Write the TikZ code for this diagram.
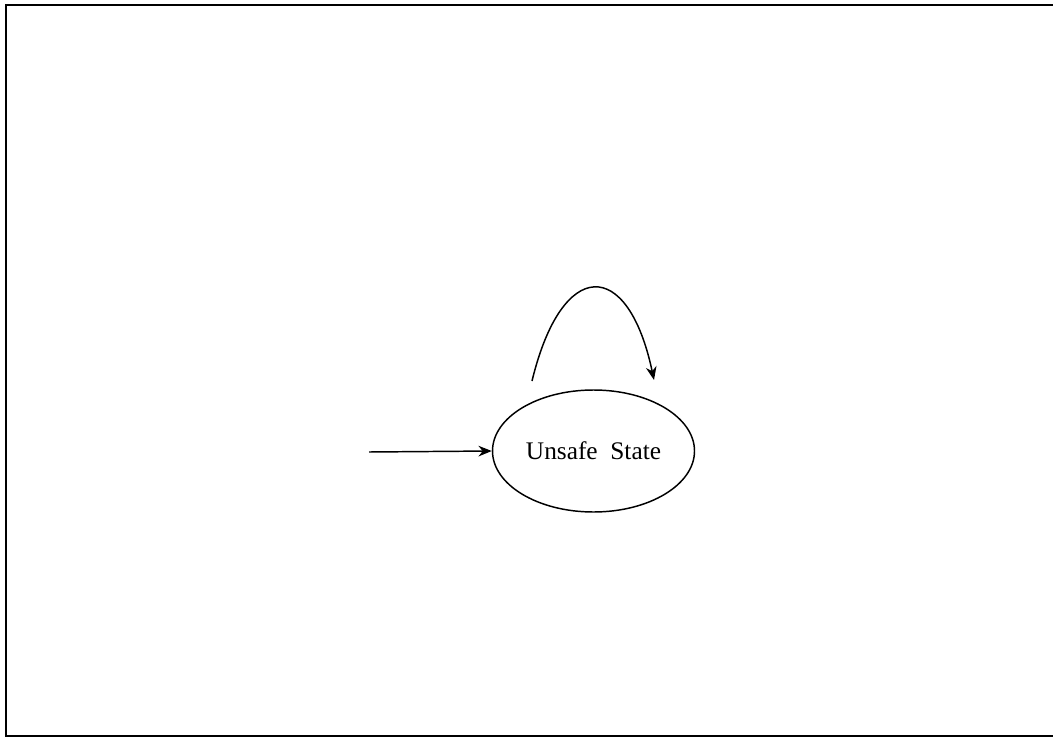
\documentclass[tikz,border=0pt]{standalone}
\usepackage{fontspec}
\setmainfont{Liberation Serif}
\usetikzlibrary{shapes.geometric,arrows.meta}
\begin{document}
\begin{tikzpicture}[
  x=0.75pt, y=-0.75pt,
  state/.style={ellipse, draw, line width=1.1pt, minimum width=151.5pt, minimum height=91.5pt, inner sep=0pt, font=\fontsize{19}{21}\selectfont},
  trans/.style={line width=1.1pt, -{Stealth[length=10pt, width=8pt]}}
]
  \clip (0,0) rectangle (1053,738);
  \draw[line width=1.5pt] (6,5) rectangle (1070,736);

  \node[state] (u) at (593.5,451) {Unsafe\ \ State};
  \coordinate (in) at (369,452);
  \coordinate (ls) at (532,381);
  \coordinate (le) at (654,380);

  \draw[trans] (in) -- (u.west);
  \draw[trans] (ls) .. controls (562,257) and (628,257) .. (le);
\end{tikzpicture}
\end{document}
